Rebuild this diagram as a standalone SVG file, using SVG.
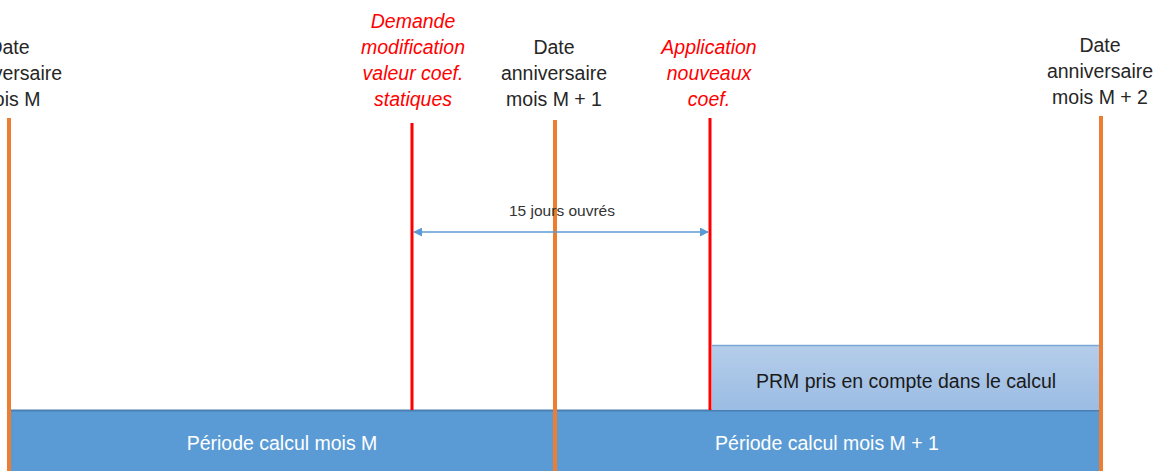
<svg xmlns="http://www.w3.org/2000/svg" width="1161" height="471" viewBox="0 0 1161 471">
<style>
.lbl{font-family:"Liberation Sans",Arial,sans-serif;font-size:19.5px;fill:#262626;text-anchor:middle}
.red{font-family:"Liberation Sans",Arial,sans-serif;font-size:19.5px;fill:#ff0000;font-style:italic;text-anchor:middle}
.bar{font-family:"Liberation Sans",Arial,sans-serif;font-size:19.5px;fill:#ffffff;text-anchor:middle}
.dark{font-family:"Liberation Sans",Arial,sans-serif;font-size:19.5px;fill:#1a1a1a;text-anchor:middle}
.small{font-family:"Liberation Sans",Arial,sans-serif;font-size:15.5px;fill:#333333;text-anchor:middle}
.orange{stroke:#ed7d31;stroke-width:4}
.redl{stroke:#ff0000;stroke-width:3}
</style>
<defs>
<linearGradient id="lg" x1="0" y1="0" x2="0" y2="1">
<stop offset="0" stop-color="#b5cdea"/>
<stop offset="1" stop-color="#9bbce3"/>
</linearGradient>
<marker id="ah" viewBox="0 0 10 10" refX="9" refY="5" markerWidth="9" markerHeight="9" markerUnits="userSpaceOnUse" orient="auto-start-reverse">
<path d="M0,0 L10,5 L0,10 z" fill="#5b9bd5"/>
</marker>
</defs>
<rect width="1161" height="471" fill="#ffffff"/>
<g id="period-m">
<rect x="10" y="410" width="545" height="61" fill="#5b9bd5"/>
<text class="bar" x="282" y="450">Période calcul mois M</text>
</g>
<g id="period-m1">
<rect x="555" y="410" width="545" height="61" fill="#5b9bd5"/>
<text class="bar" x="827" y="450">Période calcul mois M + 1</text>
</g>
<line x1="10" y1="410.5" x2="1100" y2="410.5" stroke="#4a7fb3" stroke-width="2"/>
<g id="prm">
<rect x="712" y="345" width="388" height="65" fill="url(#lg)"/>
<line x1="712" y1="345.5" x2="1100" y2="345.5" stroke="#7aa6d8" stroke-width="1.5"/>
<text class="dark" x="906" y="388">PRM pris en compte dans le calcul</text>
</g>
<g id="connectors">
<line class="orange" x1="9" y1="118" x2="9" y2="471"/>
<line class="orange" x1="555" y1="120" x2="555" y2="471"/>
<line class="orange" x1="1101" y1="116" x2="1101" y2="471"/>
<line class="redl" x1="412" y1="123" x2="412" y2="410"/>
<line class="redl" x1="710" y1="118" x2="710" y2="410"/>
<line x1="414" y1="232" x2="708" y2="232" stroke="#5b9bd5" stroke-width="1.5" marker-start="url(#ah)" marker-end="url(#ah)"/>
<text class="small" x="562" y="216">15 jours ouvrés</text>
</g>
<g id="date-m">
<text class="lbl" x="9" y="54">Date</text>
<text class="lbl" x="9" y="80">anniversaire</text>
<text class="lbl" x="9" y="106">mois M</text>
</g>
<g id="demande">
<text class="red" x="413" y="28">Demande</text>
<text class="red" x="413" y="54">modification</text>
<text class="red" x="413" y="80">valeur coef.</text>
<text class="red" x="413" y="106">statiques</text>
</g>
<g id="date-m1">
<text class="lbl" x="554" y="54">Date</text>
<text class="lbl" x="554" y="80">anniversaire</text>
<text class="lbl" x="554" y="106">mois M + 1</text>
</g>
<g id="application">
<text class="red" x="709" y="54">Application</text>
<text class="red" x="709" y="80">nouveaux</text>
<text class="red" x="709" y="106">coef.</text>
</g>
<g id="date-m2">
<text class="lbl" x="1100" y="52">Date</text>
<text class="lbl" x="1100" y="78">anniversaire</text>
<text class="lbl" x="1100" y="104">mois M + 2</text>
</g>
</svg>
